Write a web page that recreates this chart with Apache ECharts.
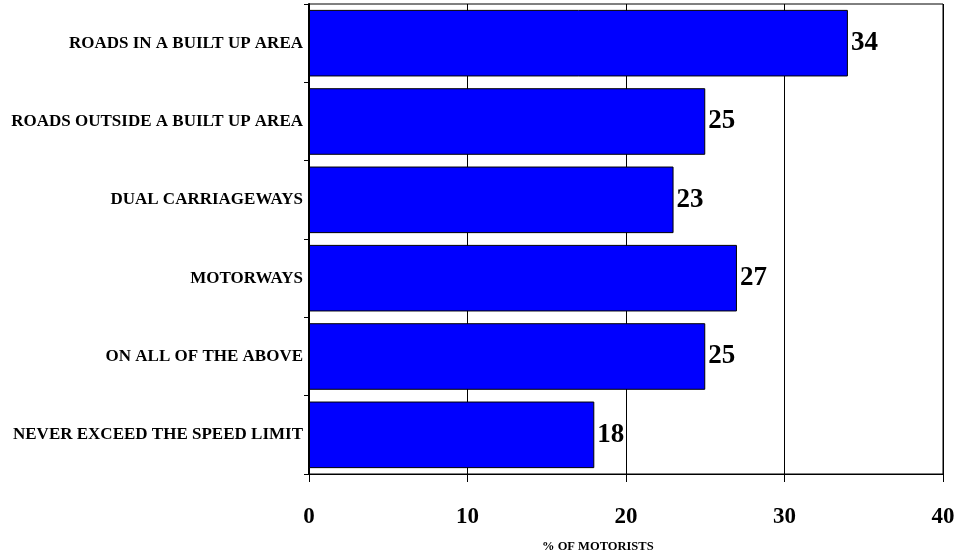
<!DOCTYPE html>
<html>
<head>
<meta charset="utf-8">
<script src="https://cdn.jsdelivr.net/npm/echarts@6/dist/echarts.min.js"></script>
<style>
    html, body {margin: 0; padding: 0; background: #fff;}
    #chart {width: 960px; height: 557px;}
</style>
</head>
<body>
<div id="chart"></div>
<script>
// categories top to bottom
var categories = [
    'ROADS IN A BUILT UP AREA',
    'ROADS OUTSIDE A BUILT UP AREA',
    'DUAL CARRIAGEWAYS',
    'MOTORWAYS',
    'ON ALL OF THE ABOVE',
    'NEVER EXCEED THE SPEED LIMIT'
];
var motorists = [34, 25, 23, 27, 25, 18];

var serif = '"Liberation Serif", "DejaVu Serif", serif';

var myChart = echarts.init(document.getElementById('chart'));
myChart.setOption({
    animation: false,
    title: {
        text: '% OF MOTORISTS',
        left: 542,
        top: 540,
        padding: 0,
        textStyle: {fontFamily: serif, fontWeight: 'bold', fontSize: 12.5, color: '#000'}
    },
    grid: {
        left: 309, right: 17, top: 4, bottom: 83,
        show: true,
        borderColor: '#000',
        borderWidth: 1
    },
    xAxis: {
        type: 'value',
        min: 0, max: 40, interval: 10,
        axisLine: {show: true, lineStyle: {color: '#000', width: 1}},
        axisTick: {show: true, length: 8, lineStyle: {color: '#000'}},
        axisLabel: {margin: 32, fontFamily: serif, fontWeight: 'bold', fontSize: 23, color: '#000'},
        splitLine: {show: true, lineStyle: {color: '#000', width: 1}}
    },
    yAxis: {
        type: 'category',
        data: categories,
        inverse: true,
        axisLine: {show: true, lineStyle: {color: '#000', width: 2}},
        axisTick: {show: true, length: 5, lineStyle: {color: '#000'}},
        axisLabel: {margin: 6, fontFamily: serif, fontWeight: 'bold', fontSize: 17, color: '#000'}
    },
    series: [
        {
            type: 'bar',
            data: motorists,
            barCategoryGap: '15%',
            itemStyle: {color: '#0000ff', borderColor: '#000', borderWidth: 1},
            label: {
                show: true,
                position: 'right',
                distance: 3,
                fontFamily: serif,
                fontWeight: 'bold',
                fontSize: 27,
                color: '#000'
            }
        }
    ]
});
</script>
</body>
</html>
